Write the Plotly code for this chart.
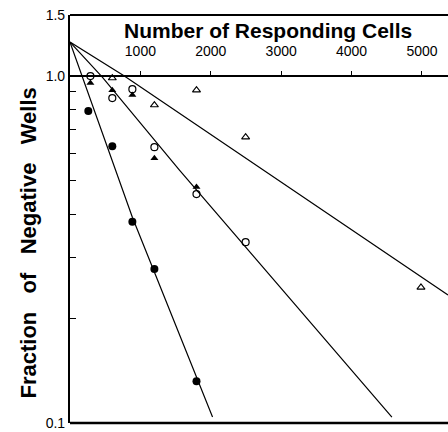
import math
import plotly.graph_objects as go

# ---- data ----
# filled circles
fc_x = [260, 601, 886, 1199, 1797]
fc_y = [0.793, 0.628, 0.380, 0.278, 0.132]
# open circles
oc_x = [290, 601, 886, 1199, 1797, 2495]
oc_y = [1.0, 0.864, 0.917, 0.624, 0.457, 0.332]
# filled triangles
ft_x = [290, 601, 886, 1199, 1797]
ft_y = [0.955, 0.911, 0.882, 0.580, 0.479]
# open triangles
ot_x = [601, 1199, 1797, 2495, 4986]
ot_y = [0.987, 0.825, 0.911, 0.667, 0.246]

# fitted lines
lineA_x = [0, 886, 2025]
lineA_y = [1.253, 0.392, 0.104]
lineB_x = [0, 459, 1555, 4573]
lineB_y = [1.253, 0.993, 0.536, 0.104]
lineC_x = [0, 772, 5370]
lineC_y = [1.253, 1.0, 0.234]

x_ticks = [1000, 2000, 3000, 4000, 5000]
x_tick_text = ["1000", "2000", "3000", "4000", "5000"]
y_ticks = [0.1, 0.2, 0.3, 0.4, 0.5, 0.6, 0.7, 0.8, 0.9, 1.0, 1.5]
y_tick_text = ["0.1", "", "", "", "", "", "", "", "", "1.0", "1.5"]

x_range = [0, 5370]
y_range = [0.1, 1.5]

FONT = "Arial, Liberation Sans, sans-serif"

fig = go.Figure()
for lx, ly in [(lineA_x, lineA_y), (lineB_x, lineB_y), (lineC_x, lineC_y)]:
    fig.add_trace(go.Scatter(x=lx, y=ly, mode="lines",
                             line=dict(color="black", width=1.2),
                             showlegend=False, hoverinfo="skip"))

fig.add_trace(go.Scatter(x=fc_x, y=fc_y, mode="markers", showlegend=False,
                         marker=dict(symbol="circle", size=8, color="black")))
fig.add_trace(go.Scatter(x=oc_x, y=oc_y, mode="markers", showlegend=False,
                         marker=dict(symbol="circle-open", size=7, color="black",
                                     line=dict(width=1.2, color="black"))))
fig.add_trace(go.Scatter(x=ft_x, y=ft_y, mode="markers", showlegend=False,
                         marker=dict(symbol="triangle-up", size=7, color="black")))
fig.add_trace(go.Scatter(x=ot_x, y=ot_y, mode="markers", showlegend=False,
                         marker=dict(symbol="triangle-up-open", size=7, color="black",
                                     line=dict(width=1.1, color="black"))))

lo, hi = math.log10(y_range[0]), math.log10(y_range[1])
pos_one = (0 - lo) / (hi - lo)

fig.update_layout(
    width=448, height=432,
    margin=dict(l=70, r=0, t=15, b=9),
    paper_bgcolor="white", plot_bgcolor="white",
    font=dict(family=FONT, color="black"),
    xaxis=dict(range=x_range, anchor="free", position=pos_one, side="top",
               showline=True, linecolor="black", linewidth=1.8,
               showgrid=False, zeroline=False,
               tickvals=x_ticks, ticktext=x_tick_text,
               ticks="outside", ticklen=4, tickwidth=1.2, tickcolor="black",
               ticklabelstandoff=10,
               tickfont=dict(size=14, family=FONT, color="black")),
    yaxis=dict(type="log", range=[lo, hi],
               showline=True, linecolor="black", linewidth=2.2,
               showgrid=False, zeroline=False,
               tickvals=y_ticks, ticktext=y_tick_text,
               ticks="inside", ticklen=6, tickwidth=1.2, tickcolor="black",
               tickfont=dict(size=14, family=FONT, color="black")),
    shapes=[
        dict(type="line", xref="paper", yref="paper", x0=0, x1=1, y0=1, y1=1,
             line=dict(color="black", width=2)),
        dict(type="line", xref="paper", yref="paper", x0=0, x1=1, y0=0, y1=0,
             line=dict(color="black", width=2.5)),
    ],
    annotations=[
        dict(text="<b>Number of Responding Cells</b>", xref="paper", yref="paper",
             x=0.524, y=0.962, xanchor="center", yanchor="middle", showarrow=False,
             font=dict(size=21, family=FONT, color="black")),
        dict(text="<b>Fraction\u00a0\u00a0\u00a0of\u00a0\u00a0\u00a0Negative\u00a0\u00a0\u00a0Wells</b>",
             xref="paper", yref="paper", x=-0.111, y=0.44, textangle=-90,
             xanchor="center", yanchor="middle", showarrow=False,
             font=dict(size=22, family=FONT, color="black")),
    ],
)

fig.write_html("out.html",
               config={"displayModeBar": False},
               post_script="document.body.style.margin='0';document.body.style.overflow='hidden';")
